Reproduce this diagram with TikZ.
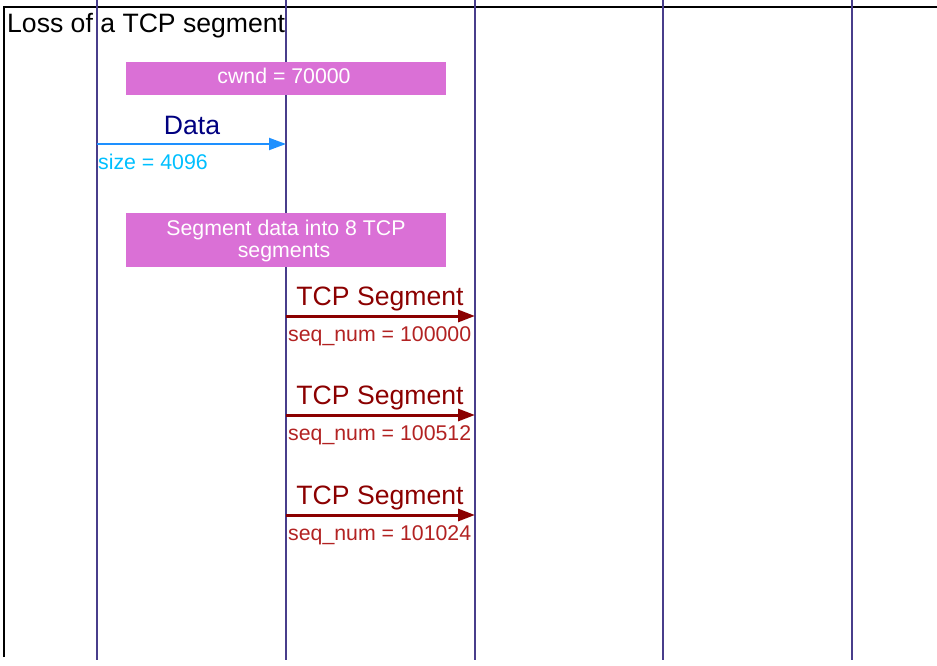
\documentclass[tikz,border=0pt]{standalone}
\usepackage{fontspec}
\setmainfont{Liberation Sans}
\usetikzlibrary{arrows.meta}
\definecolor{lifeline}{RGB}{72,61,139}
\definecolor{boxfill}{RGB}{218,112,214}
\definecolor{dataarrow}{RGB}{30,144,255}
\definecolor{datalabel}{RGB}{0,0,128}
\definecolor{sizelabel}{RGB}{0,191,255}
\definecolor{segarrow}{RGB}{139,0,0}
\definecolor{seqlabel}{RGB}{178,34,34}
\tikzset{
  bigtext/.style={font=\fontsize{26.6}{30}\selectfont, inner sep=0pt},
  smalltext/.style={font=\fontsize{21.3}{23}\selectfont, inner sep=0pt},
  lifelinestyle/.style={draw=lifeline, line width=2pt},
  notebox/.style={fill=boxfill, draw=none},
  notetext/.style={smalltext, text=white, align=center},
  dataarr/.style={draw=dataarrow, line width=2pt, -{Triangle[length=17pt,width=12pt]}},
  segarr/.style={draw=segarrow, line width=3pt, -{Triangle[length=17pt,width=12pt]}},
}
\begin{document}
\begin{tikzpicture}[x=1pt, y=-1pt]
\useasboundingbox (0,0) rectangle (937,666);
% frame
\draw[black, line width=2pt] (4,657) -- (4,7) -- (937,7);
\node[bigtext, anchor=base west] (title) at (7,33) {Loss of a TCP segment};
% lifelines
\foreach \n/\x in {L1/97, L2/286, L3/475, L4/663, L5/852} {
  \coordinate (\n top) at (\x,0);
  \coordinate (\n bot) at (\x,660);
  \draw[lifelinestyle] (\n top) -- (\n bot);
}
% cwnd box
\fill[notebox] (126,62) rectangle (446,95);
\node[notetext, anchor=base] (cwnd) at (284,84) {cwnd = 70000};
% Data arrow
\coordinate (d1) at (97,144);
\coordinate (d2) at (286,144);
\draw[dataarr] (d1) -- (d2);
\node[bigtext, text=datalabel, anchor=base] (datalbl) at (192,135) {Data};
\node[smalltext, text=sizelabel, anchor=base west] (sizelbl) at (98,169) {size = 4096};
% segment box
\fill[notebox] (126,213) rectangle (446,267);
\node[notetext, anchor=base] (seg1) at (286,235.5) {Segment data into 8 TCP};
\node[notetext, anchor=base] (seg2) at (284,257.5) {segments};
% TCP segments
\foreach \i/\y/\s in {1/316/100000, 2/415/100512, 3/515/101024} {
  \coordinate (s\i a) at (286,\y);
  \coordinate (s\i b) at (475,\y);
  \draw[segarr] (s\i a) -- (s\i b);
  \node[bigtext, text=segarrow, anchor=base] (tcp\i) at (380,\y-11) {TCP Segment};
  \node[smalltext, text=seqlabel, anchor=base west] (seq\i) at (288,\y+25) {seq\_num = \s};
}
\end{tikzpicture}
\end{document}
